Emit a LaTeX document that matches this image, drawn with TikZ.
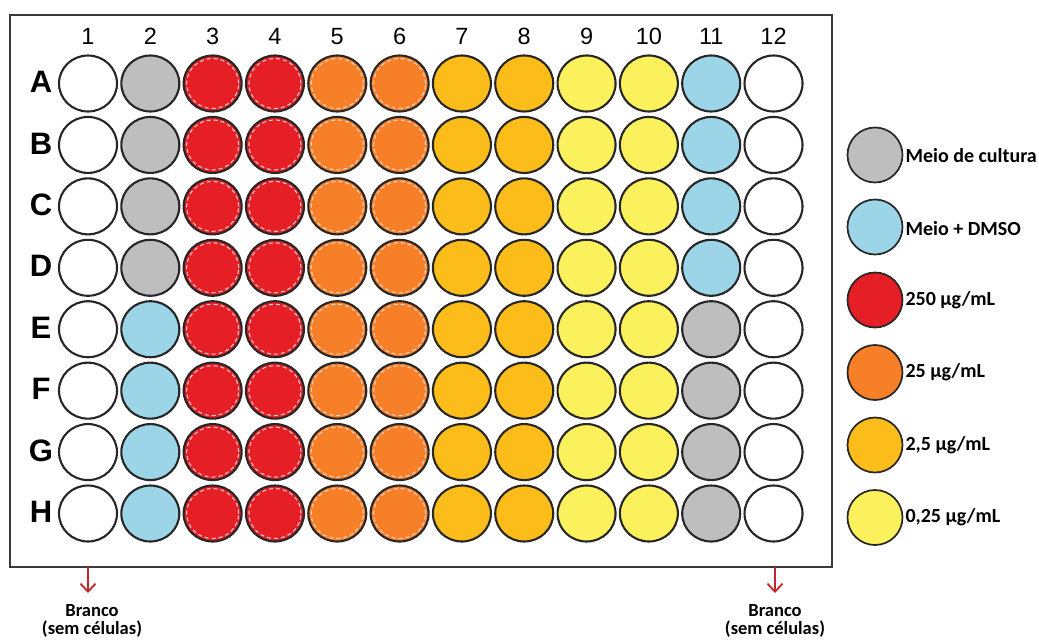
\documentclass[tikz,border=0pt]{standalone}
\usepackage{fontspec}
\setmainfont{Liberation Sans}
\newfontfamily\calib{Carlito}
\usetikzlibrary{arrows.meta,shapes.geometric}
\definecolor{cgray}{HTML}{BEBEBE}
\definecolor{cblue}{HTML}{9DD5E8}
\definecolor{cred}{HTML}{E61E26}
\definecolor{corange}{HTML}{F67F28}
\definecolor{camber}{HTML}{FCBC1A}
\definecolor{cyellow}{HTML}{FBF15C}
\definecolor{cwhite}{HTML}{FFFFFF}
\definecolor{frame}{HTML}{3A3A3A}
\definecolor{arrred}{HTML}{C0262C}
\definecolor{ringc}{HTML}{F6D6D0}
\tikzset{
  well/.style={ellipse, draw=black!85, line width=2.1pt, minimum width=58pt, minimum height=56pt, inner sep=0pt},
  lwell/.style={circle, draw=black!85, line width=1.7pt, minimum size=55pt, inner sep=0pt},
  ring/.style={ellipse, draw=ringc, dash pattern=on 4pt off 3pt, line width=1pt, minimum width=52pt, minimum height=50pt, inner sep=0pt},
  collab/.style={font=\fontsize{23.5}{23.5}\selectfont},
  rowlab/.style={font=\fontsize{31}{31}\selectfont\bfseries},
  legtext/.style={anchor=west, font=\calib\fontsize{20}{20}\selectfont\bfseries},
  blank/.style={align=center, font=\calib\fontsize{18.5}{17.5}\selectfont\bfseries},
  redarrow/.style={draw=arrred, line width=1.8pt, -{Straight Barb[length=8pt,width=15pt,line width=1.8pt]}}
}
\begin{document}
\begin{tikzpicture}[x=1pt,y=-1pt]
\useasboundingbox (0,0) rectangle (1039,643);
\node[draw=frame, line width=2.3pt, minimum width=822pt, minimum height=552pt, inner sep=0pt] (plate) at (420.75,291) {};
% column labels
\foreach \i in {1,...,12} {
  \node[collab] (col\i) at ({88+(\i-1)*62.32},36.5) {\i};
}
% row labels
\foreach \r [count=\j] in {A,B,C,D,E,F,G,H} {
  \node[rowlab] (row\r) at (41,{82+(\j-1)*61.43}) {\r};
}
% wells
\foreach \r [count=\j] in {A,B,C,D,E,F,G,H} {
  \pgfmathsetmacro{\y}{83.5+(\j-1)*61.43}
  \ifnum\j<5 \def\ca{cgray}\def\cb{cblue}\else\def\ca{cblue}\def\cb{cgray}\fi
  \foreach \i/\col in {1/cwhite,2/\ca,3/cred,4/cred,5/corange,6/corange,7/camber,8/camber,9/cyellow,10/cyellow,11/\cb,12/cwhite} {
    \node[well, fill=\col] (w\r\i) at ({88+(\i-1)*62.32},\y) {};
  }
  \foreach \i in {3,4,5,6} {
    \node[ring] (r\r\i) at (w\r\i) {};
  }
}
% legend
\node[lwell, fill=cgray] (l1) at (875,155) {};
\node[legtext] (l1t) at (902,156) {Meio de cultura};
\node[lwell, fill=cblue] (l2) at (875,227) {};
\node[legtext] (l2t) at (902,229) {Meio + DMSO};
\node[lwell, fill=cred] (l3) at (875,300) {};
\node[legtext] (l3t) at (902,300) {250 µg/mL};
\node[lwell, fill=corange] (l4) at (875,372.5) {};
\node[legtext] (l4t) at (902,372.5) {25 µg/mL};
\node[lwell, fill=camber] (l5) at (875,445) {};
\node[legtext] (l5t) at (902,445) {2,5 µg/mL};
\node[lwell, fill=cyellow] (l6) at (875,517.5) {};
\node[legtext] (l6t) at (902,517.5) {0,25 µg/mL};
% blanks
\coordinate (b1) at (88,567);
\coordinate (b2) at (775,567);
\coordinate (e1) at (88,593);
\coordinate (e2) at (775,593);
\node[blank] (t1) at (92,621) {Branco\\(sem células)};
\node[blank] (t2) at (775,621) {Branco\\(sem células)};
\draw[redarrow] (b1) -- (e1);
\draw[redarrow] (b2) -- (e2);
\end{tikzpicture}
\end{document}
